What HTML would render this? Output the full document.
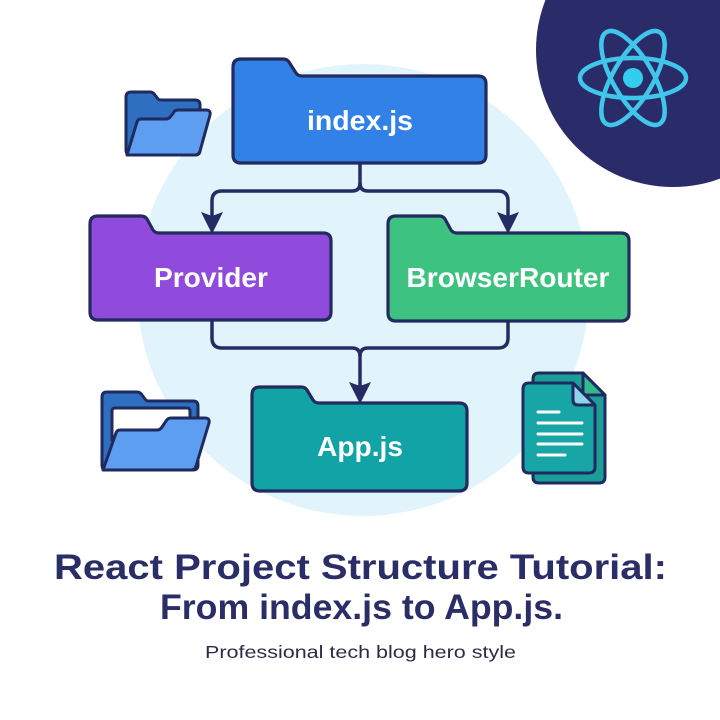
<!DOCTYPE html>
<html>
<head>
<meta charset="utf-8">
<style>
  html,body{margin:0;padding:0;background:#ffffff;}
  svg{display:block;}
</style>
</head>
<body>
<svg width="720" height="720" viewBox="0 0 720 720" xmlns="http://www.w3.org/2000/svg">
  <rect width="720" height="720" fill="#ffffff"/>
  <!-- light background circle -->
  <circle cx="363" cy="290" r="226" fill="#e2f4fb"/>

  <!-- React corner circle -->
  <circle cx="673" cy="50" r="137" fill="#2a2c6a"/>
  <g fill="none" stroke="#40c6ea" stroke-width="4.5">
    <ellipse cx="633" cy="78" rx="53" ry="20"/>
    <ellipse cx="633" cy="78" rx="53" ry="20" transform="rotate(60 633 78)"/>
    <ellipse cx="633" cy="78" rx="53" ry="20" transform="rotate(120 633 78)"/>
  </g>
  <circle cx="633" cy="78" r="10" fill="#33cdee"/>

  <!-- connectors -->
  <g fill="none" stroke="#252c62" stroke-width="3.5" stroke-linejoin="round">
    <path d="M360,163 V183 Q360,191 352,191 H222 Q212,191 212,201 V216"/>
    <path d="M360,183 Q360,191 368,191 H498 Q508,191 508,201 V216"/>
    <path d="M212,320 V338 Q212,348 222,348 H352 Q360,348 360,356 V386"/>
    <path d="M508,321 V338 Q508,348 498,348 H368 Q360,348 360,356"/>
  </g>
  <g fill="#252c62">
    <path d="M201,212 L212,216 L223,212 L212,234 Z"/>
    <path d="M497,212 L508,216 L519,212 L508,234 Z"/>
    <path d="M349,382 L360,386 L371,382 L360,404 Z"/>
  </g>

  <!-- folders -->
  <g stroke="#232a5e" stroke-width="3.2" stroke-linejoin="round">
    <!-- index.js -->
    <path fill="#3181e6" d="M233,67 Q233,59 241,59 L283,59 Q287,59 289,62 L296,73 Q298,76 302,76 L478,76 Q486,76 486,84 L486,155 Q486,163 478,163 L241,163 Q233,163 233,155 Z"/>
    <!-- Provider -->
    <path fill="#914bdc" d="M90,224 Q90,216 98,216 L141,216 Q145,216 147,219 L153,230 Q155,233 159,233 L323,233 Q331,233 331,241 L331,312 Q331,320 323,320 L98,320 Q90,320 90,312 Z"/>
    <!-- BrowserRouter -->
    <path fill="#3dc37f" d="M388,224 Q388,216 396,216 L439,216 Q443,216 445,219 L451,230 Q453,233 457,233 L621,233 Q629,233 629,241 L629,313 Q629,321 621,321 L396,321 Q388,321 388,313 Z"/>
    <!-- App.js -->
    <path fill="#12a3a7" d="M252,395 Q252,387 260,387 L301,387 Q305,387 307,390 L313,400 Q315,403 319,403 L459,403 Q467,403 467,411 L467,483 Q467,491 459,491 L260,491 Q252,491 252,483 Z"/>
  </g>

  <!-- folder labels -->
  <g font-family="'Liberation Sans', Arial, sans-serif" font-weight="bold" font-size="28" fill="#ffffff" text-anchor="middle">
    <text x="360" y="130" textLength="106" lengthAdjust="spacingAndGlyphs">index.js</text>
    <text x="211" y="287" textLength="114" lengthAdjust="spacingAndGlyphs">Provider</text>
    <text x="508" y="287" textLength="203" lengthAdjust="spacingAndGlyphs">BrowserRouter</text>
    <text x="360" y="456" textLength="86" lengthAdjust="spacingAndGlyphs">App.js</text>
  </g>

  <!-- top-left folder icon -->
  <g stroke="#1f2a5e" stroke-width="3" stroke-linejoin="round">
    <path fill="#2e6fc2" d="M126,97 Q126,92 131,92 L150,92 Q153,92 155,95 L158,99 Q159,100 162,100 L195,100 Q200,100 200,105 L200,150 Q200,155 195,155 L131,155 Q126,155 126,150 Z"/>
    <path fill="#5d9ef0" d="M127,155 L137,122 Q138,119 141,119 L166,119 Q169,119 171,116 L174,112 Q175,110 178,110 L206,110 Q211,110 210,115 L200,151 Q199,155 195,155 Z"/>
  </g>

  <!-- bottom-left folder icon -->
  <g stroke="#1f2a5e" stroke-width="3" stroke-linejoin="round">
    <path fill="#2e6fc2" d="M102,397 Q102,392 107,392 L137,392 Q140,392 142,395 L145,399 Q146,401 149,401 L193,401 Q198,401 198,406 L198,465 Q198,470 193,470 L107,470 Q102,470 102,465 Z"/>
    <path fill="#ffffff" d="M112,440 L112,411 Q112,408 115,408 L187,408 Q190,408 190,411 L190,440 Z"/>
    <path fill="#5d9ef0" d="M103,470 L116,433 Q117,430 120,430 L157,430 Q160,430 162,427 L166,421 Q168,418 171,418 L205,418 Q210,418 209,423 L196,466 Q195,470 191,470 Z"/>
  </g>

  <!-- document icon -->
  <g stroke="#1f2a5e" stroke-width="3" stroke-linejoin="round">
    <path fill="#1c9e98" d="M539,373 L583,373 L605,395 L605,477 Q605,483 599,483 L539,483 Q533,483 533,477 L533,379 Q533,373 539,373 Z"/>
    <path fill="#33b98a" d="M583,373 L583,395 L605,395 Z"/>
    <path fill="#17a5a6" d="M529,383 L573,383 L595,405 L595,467 Q595,473 589,473 L529,473 Q523,473 523,467 L523,389 Q523,383 529,383 Z"/>
    <path fill="#8dd4e6" d="M573,383 L573,400 Q573,405 578,405 L595,405 Z"/>
  </g>
  <g stroke="#ffffff" stroke-width="3" stroke-linecap="round">
    <line x1="538" y1="412" x2="559" y2="412"/>
    <line x1="538" y1="423" x2="582" y2="423"/>
    <line x1="538" y1="434" x2="582" y2="434"/>
    <line x1="538" y1="444" x2="582" y2="444"/>
    <line x1="538" y1="455" x2="565" y2="455"/>
  </g>

  <!-- Title -->
  <g font-family="'Liberation Sans', Arial, sans-serif" font-weight="bold" fill="#2b2e66" font-size="35">
    <text x="54" y="579" textLength="613" lengthAdjust="spacingAndGlyphs">React Project Structure Tutorial:</text>
    <text x="160" y="619" textLength="403" lengthAdjust="spacingAndGlyphs">From index.js to App.js.</text>
  </g>
  <text x="205" y="658" font-family="'Liberation Sans', Arial, sans-serif" font-size="17.5" fill="#2b2b48" textLength="311" lengthAdjust="spacingAndGlyphs">Professional tech blog hero style</text>
</svg>
</body>
</html>
